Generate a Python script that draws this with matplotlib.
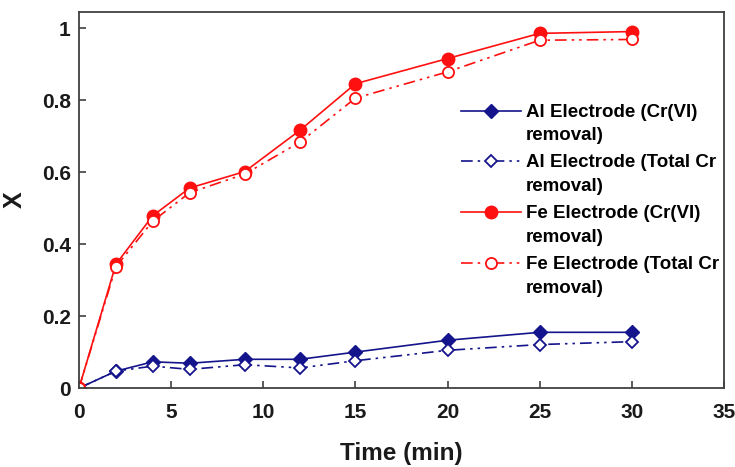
import matplotlib
matplotlib.use("Agg")
import numpy as np
import matplotlib.pyplot as plt

plt.rcParams['font.family'] = ['Liberation Sans', 'DejaVu Sans']
plt.rcParams['font.weight'] = 'bold'

# sampling times (min)
time_min = [0, 2, 4, 6, 9, 12, 15, 20, 25, 30]

al_crvi = [0, 0.047, 0.073, 0.069, 0.080, 0.080, 0.100, 0.133, 0.155, 0.155]
al_total = [0, 0.047, 0.061, 0.052, 0.065, 0.056, 0.076, 0.105, 0.121, 0.129]
fe_crvi = [0, 0.344, 0.479, 0.556, 0.602, 0.717, 0.846, 0.916, 0.986, 0.991]
fe_total = [0, 0.337, 0.464, 0.543, 0.595, 0.684, 0.806, 0.879, 0.967, 0.969]

labels = ["Al Electrode (Cr(VI)\nremoval)",
          "Al Electrode (Total Cr\nremoval)",
          "Fe Electrode (Cr(VI)\nremoval)",
          "Fe Electrode (Total Cr\nremoval)"]

navy = '#14148c'
red = '#ff1010'
dashdotdot = (0, (7, 3, 1.5, 3, 1.5, 3))

fig = plt.figure(figsize=(7.35, 4.67), dpi=100)
ax = fig.add_axes([0.1075, 0.169, 0.8775, 0.805])

ax.plot(time_min, al_crvi, '-', color=navy, lw=1.2, marker='D', ms=7,
        mfc=navy, mec=navy, label=labels[0])
ax.plot(time_min, al_total, color=navy, lw=1.2, ls=dashdotdot, marker='D', ms=6.5,
        mfc='white', mec=navy, mew=1.3, label=labels[1])
ax.plot(time_min, fe_crvi, '-', color=red, lw=1.2, marker='o', ms=9,
        mfc=red, mec=red, label=labels[2])
ax.plot(time_min, fe_total, color=red, lw=1.2, ls=dashdotdot, marker='o', ms=8,
        mfc='white', mec=red, mew=1.3, label=labels[3])

ax.set_xlim(0, 35)
ax.set_ylim(0, 1.045)
ax.set_xticks([0, 5, 10, 15, 20, 25, 30, 35])
ax.set_yticks([0, 0.2, 0.4, 0.6, 0.8, 1.0])
ax.set_yticklabels(['0', '0.2', '0.4', '0.6', '0.8', '1'])

ax.tick_params(direction='in', length=5, width=1.2, labelsize=15,
               colors='#404040', labelcolor='#1a1a1a')
ax.tick_params(axis='x', pad=11)
ax.tick_params(axis='y', pad=6)
for sp in ax.spines.values():
    sp.set_color('#404040')
    sp.set_linewidth(1.3)

ax.set_xlabel('Time (min)', fontsize=17.5, fontweight='bold', labelpad=14, color='#1a1a1a')
ax.set_ylabel('X', fontsize=18, fontweight='bold', labelpad=11, color='#1a1a1a')

leg = ax.legend(loc='center left', bbox_to_anchor=(0.58, 0.5), frameon=False,
                fontsize=13.5, handlelength=3.2, handletextpad=0.3, labelspacing=0.55,
                borderaxespad=0)
for t in leg.get_texts():
    t.set_linespacing(1.5)
# put legend symbols level with the first line of each label
for h in leg.legend_handles:
    h.set_ydata(np.asarray(h.get_ydata()) + 9.5)

fig.savefig('out.png', dpi=100)
